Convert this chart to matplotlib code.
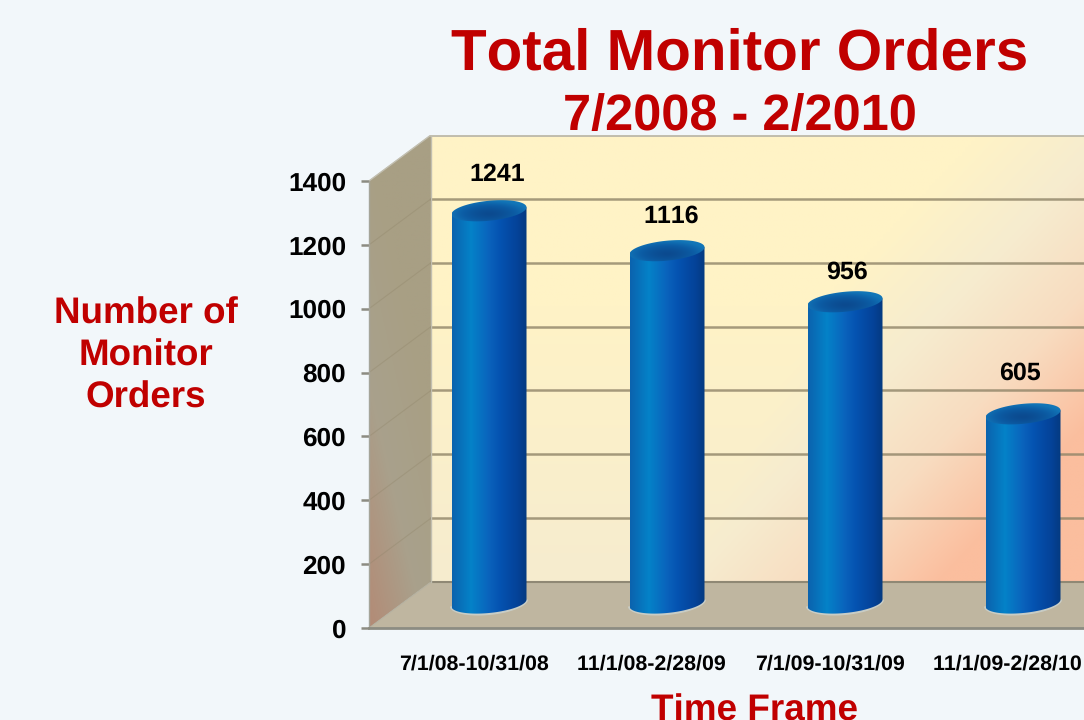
import numpy as np
import matplotlib
matplotlib.use('Agg')
import matplotlib.pyplot as plt
from matplotlib.colors import LinearSegmentedColormap
from matplotlib.patches import Polygon

# values
periods = ['7/1/08-10/31/08', '11/1/08-2/28/09', '7/1/09-10/31/09', '11/1/09-2/28/10']
orders = [1241, 1116, 956, 605]
label_dx = [8, 4, 2, -3]
label_dy = [34, 32, 27, 39]
y_ticks = [0, 200, 400, 600, 800, 1000, 1200, 1400]

RED = '#C00000'
plt.rcParams['font.family'] = ['Liberation Sans', 'DejaVu Sans']
plt.rcParams['font.weight'] = 'bold'
plt.rcParams['text.kerning_factor'] = 6
plt.rcParams['text.hinting'] = 'no_hinting'

W, H = 1084, 720
fig = plt.figure(figsize=(W / 100, H / 100), dpi=100, facecolor='#F2F7FA')

# axes box in pixels: x 369..1084, y 135..628 (1400 sits at pixel 181 on the front edge)
ax = fig.add_axes([369 / W, 1 - 628 / H, (1084 - 369) / W, (628 - 135) / H])
px_x = 178.0      # pixels per category
px_y = 447 / 1400  # pixels per order
x0 = (369 - 489) / px_x
x1 = (1084 - 489) / px_x
y1 = 493 / px_y
dx = 62 / px_x
dy = 46 / px_y
ax.set_xlim(x0, x1)
ax.set_ylim(0, y1)
ax.patch.set_alpha(0)


def gradient(img, extent, clip_xy, z=1, cmap=None):
    im = ax.imshow(img, extent=extent, origin='lower', aspect='auto', zorder=z,
                   cmap=cmap, interpolation='bilinear', vmin=0, vmax=1)
    poly = Polygon(clip_xy, closed=True, transform=ax.transData)
    im.set_clip_path(poly)
    return im


# back wall
back_cmap = LinearSegmentedColormap.from_list('back', ['#FFF3C6', '#F6ECCF', '#F8DCC0', '#FBBE9E'])
xn, yn = np.meshgrid(np.linspace(0, 1, 200), np.linspace(0, 1, 200))
t = np.clip(1.7 * xn - 1.1 * yn - 0.33, 0, 1)
t = np.maximum(t, 0.33 * np.clip(1 - 1.6 * yn, 0, 1))
gradient(t, (x0 + dx, x1, dy, y1),
         [(x0 + dx, dy), (x1, dy), (x1, y1), (x0 + dx, y1)], z=1, cmap=back_cmap)

# left wall
wall_cmap = LinearSegmentedColormap.from_list('wall', ['#A89F84', '#A9A18C', '#B38B76'])
xn, yn = np.meshgrid(np.linspace(0, 1, 60), np.linspace(0, 1, 120))
t = np.clip((1 - yn) * 1.0 - 0.45 + (1 - xn) * 0.55 - 0.1, 0, 1)
gradient(t, (x0, x0 + dx, 0, y1),
         [(x0, 0), (x0 + dx, dy), (x0 + dx, y1), (x0, 1400)], z=1, cmap=wall_cmap)

# floor
ax.add_patch(Polygon([(x0, 0), (x0 + dx, dy), (x1, dy), (x1, 0)], closed=True,
                     fc='#BFB6A0', ec='none', zorder=2))

# grid on the back wall and running down the side wall
for v in y_ticks[1:]:
    ax.plot([x0 + dx, x1], [v + dy, v + dy], color='#8F8468', lw=1.8, alpha=0.8, zorder=3)
    ax.plot([x0, x0 + dx], [v, v + dy], color='#8F8468', lw=0.8, alpha=0.35, zorder=3)
ax.plot([x0 + dx, x1], [dy, dy], color='#8F8874', lw=1.5, zorder=3)
ax.plot([x0 + dx, x0 + dx], [dy, y1], color='#C2BFB0', lw=1, zorder=3)
ax.plot([x0 + dx, x1], [y1, y1], color='#C2BFB0', lw=2, zorder=3)
ax.plot([x0, x0 + dx], [1400, y1], color='#C2BFB0', lw=1, zorder=3)
ax.plot([x0, x0 + dx], [0, dy], color='#B5B1A0', lw=0.8, zorder=3)

# cylinders
bar_cmap = LinearSegmentedColormap.from_list(
    'bar', [(0, '#0B63AE'), (0.25, '#0482C8'), (0.5, '#0A62BC'),
            (0.65, '#0452B0'), (0.88, '#054298'), (1, '#043A80')])
cap_cmap = LinearSegmentedColormap.from_list('cap', ['#0B4A8F', '#0C5CA4', '#1276B8'])

half_w = 37.5 / px_x
bh = 10 / px_y
tilt = 3.5 / px_y
top_lift = 21 / px_y
base_lift = 25 / px_y
ang = np.linspace(0, 2 * np.pi, 181)

for i, v in enumerate(orders):
    cx = i
    base = base_lift
    top = v + top_lift

    # pale glow round the foot of the cylinder
    low = np.linspace(np.pi, 2 * np.pi, 60)
    glow_x = cx + 1.04 * half_w * np.cos(low)
    glow_y = base + 1.2 * bh * np.sin(low) + tilt * np.cos(low)
    ax.fill(glow_x, glow_y, color='#CFDDE0', alpha=0.6, zorder=4, lw=0)

    body_x = np.r_[cx - half_w, cx + half_w * np.cos(low), cx + half_w]
    body_y = np.r_[top - tilt, base + bh * np.sin(low) + tilt * np.cos(low), top + tilt]
    gradient(np.linspace(0, 1, 128).reshape(1, -1), (cx - half_w, cx + half_w, 0, y1),
             np.c_[body_x, body_y], z=5, cmap=bar_cmap)

    cap_x = cx + half_w * np.cos(ang)
    cap_y = top + bh * np.sin(ang) + tilt * np.cos(ang)
    xx, yy = np.meshgrid(np.linspace(-1, 1, 60), np.linspace(-1, 1, 40))
    shade = np.clip(np.hypot(xx * 0.9, yy + 0.25) ** 1.5, 0, 1)
    gradient(shade, (cx - half_w, cx + half_w, top - bh - tilt, top + bh + tilt),
             np.c_[cap_x, cap_y], z=6, cmap=cap_cmap)

    ax.annotate(str(v), (cx, v + dy / 2), xytext=(label_dx[i] * 0.72, label_dy[i] * 0.72),
                textcoords='offset points', ha='center', va='center',
                fontsize=18, fontweight='bold', color='black', zorder=7)

# axes
for s in ['top', 'right']:
    ax.spines[s].set_visible(False)
ax.spines['left'].set_bounds(0, 1400)
ax.spines['left'].set_color('#A5A59A')
ax.spines['left'].set_linewidth(1)
ax.spines['left'].set_zorder(8)
ax.spines['bottom'].set_color('#8C8C82')
ax.spines['bottom'].set_linewidth(2)
ax.spines['bottom'].set_zorder(8)
ax.set_yticks(y_ticks)
ax.set_yticklabels([str(v) for v in y_ticks], fontsize=18.8, fontweight='bold')
ax.tick_params(axis='y', length=5.5, width=1.8, color='#8C8C82', pad=11)
ax.set_xticks(np.arange(len(periods)) - 15 / px_x)
ax.set_xticklabels(periods, fontsize=15.4, fontweight='bold')
ax.tick_params(axis='x', length=0, pad=19)

# titles
fig.text(740 / W, 1 - 54 / H, 'Total Monitor Orders', color=RED, fontsize=42,
         fontweight='bold', ha='center', va='center')
fig.text(740 / W, 1 - 117 / H, '7/2008 - 2/2010', color=RED, fontsize=36.4,
         fontweight='bold', ha='center', va='center')
fig.text(146 / W, 1 - 356 / H, 'Number of\nMonitor\nOrders', color=RED, fontsize=26.5,
         fontweight='bold', ha='center', va='center', linespacing=1.27)
fig.text(755 / W, 1 - 711 / H, 'Time Frame', color=RED, fontsize=26.6,
         fontweight='bold', ha='center', va='center')

fig.savefig('out.png', dpi=100, facecolor=fig.get_facecolor())
